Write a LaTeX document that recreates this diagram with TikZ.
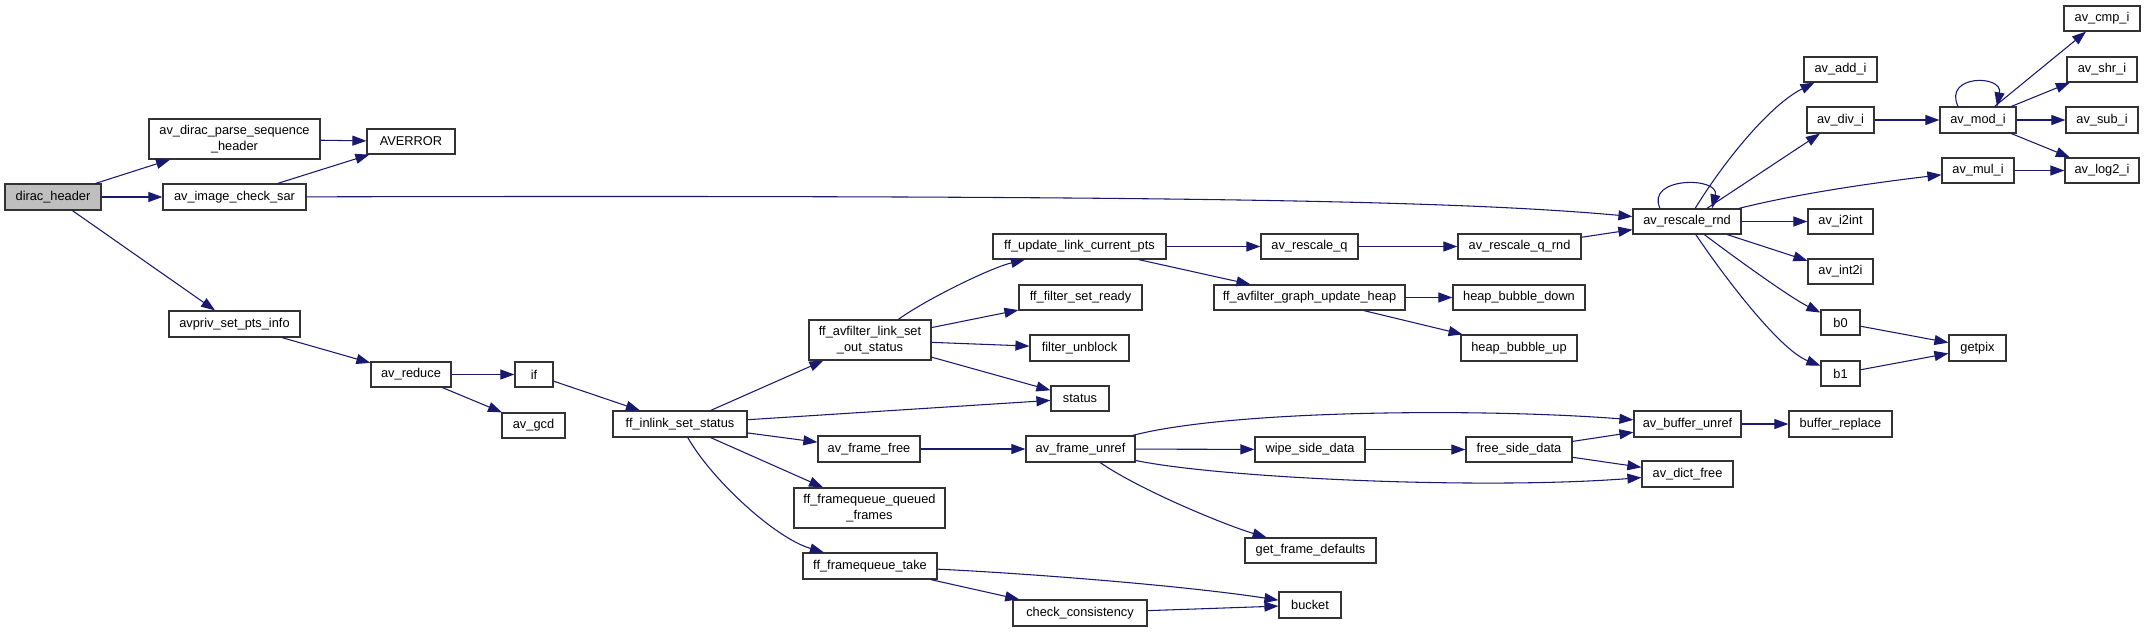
\documentclass[tikz,border=0pt]{standalone}
\usepackage{fontspec}
\setmainfont{Liberation Sans}
\usetikzlibrary{arrows.meta,calc}
\definecolor{edgeBlue}{HTML}{191970}
\definecolor{rootGray}{HTML}{BFBFBF}

\begin{document}
\begin{tikzpicture}[x=0.75pt, y=-0.75pt,
        fn/.style 2 args={draw=black!80, line width=0.9pt, fill=white, inner sep=0pt, align=center,
            minimum width=#1*0.75pt, minimum height=#2*0.75pt, font=\fontsize{9.6}{11.5}\selectfont},
        call/.style={draw=edgeBlue, line width=0.8pt, -{Triangle[length=10.5pt,width=7.5pt]}}]
        \useasboundingbox[fill=white] (0,0) rectangle (2145,632);

        \node[fn={96}{26}, fill=rootGray] (diracHeader) at (53,197) {dirac\_header};
        \node[fn={171}{40}] (parseSeq) at (234.5,139) {av\_dirac\_parse\_sequence\\\_header};
        \node[fn={88}{25}] (averror) at (411,141.5) {AVERROR};
        \node[fn={143}{26}] (checkSar) at (234.5,197) {av\_image\_check\_sar};
        \node[fn={131}{26}] (ptsInfo) at (234.5,324) {avpriv\_set\_pts\_info};
        \node[fn={80}{25}] (reduce) at (411,374.5) {av\_reduce};
        \node[fn={38}{25}] (ifNode) at (534,374.5) {if};
        \node[fn={63}{25}] (gcd) at (533.5,425.5) {av\_gcd};
        \node[fn={134}{26}] (inlinkStatus) at (680,424) {ff\_inlink\_set\_status};
        \node[fn={122}{40}] (outStatus) at (870,340) {ff\_avfilter\_link\_set\\\_out\_status};
        \node[fn={173}{25}] (updatePts) at (1079.5,246.5) {ff\_update\_link\_current\_pts};
        \node[fn={123}{25}] (setReady) at (1080.5,297.5) {ff\_filter\_set\_ready};
        \node[fn={99}{26}] (unblock) at (1079.5,348) {filter\_unblock};
        \node[fn={58}{25}] (status) at (1080,398.5) {status};
        \node[fn={102}{26}] (frameFree) at (869,449) {av\_frame\_free};
        \node[fn={151}{40}] (queued) at (869.5,508) {ff\_framequeue\_queued\\\_frames};
        \node[fn={134}{26}] (queueTake) at (870,566) {ff\_framequeue\_take};
        \node[fn={134}{26}] (consistency) at (1080,613) {check\_consistency};
        \node[fn={62}{26}] (bucket) at (1310,605) {bucket};
        \node[fn={109}{26}] (frameUnref) at (1080.5,449) {av\_frame\_unref};
        \node[fn={131}{25}] (frameDefaults) at (1310.5,550.5) {get\_frame\_defaults};
        \node[fn={110}{25}] (wipeSide) at (1310,449.5) {wipe\_side\_data};
        \node[fn={106}{25}] (freeSide) at (1519,449.5) {free\_side\_data};
        \node[fn={107}{26}] (bufferUnref) at (1687.5,424) {av\_buffer\_unref};
        \node[fn={91}{26}] (dictFree) at (1687.5,474) {av\_dict\_free};
        \node[fn={103}{26}] (bufferReplace) at (1840.5,424) {buffer\_replace};
        \node[fn={191}{25}] (updateHeap) at (1309.5,297.5) {ff\_avfilter\_graph\_update\_heap};
        \node[fn={132}{25}] (bubbleDown) at (1519,297.5) {heap\_bubble\_down};
        \node[fn={116}{26}] (bubbleUp) at (1519,348) {heap\_bubble\_up};
        \node[fn={97}{25}] (rescaleQ) at (1309.5,246.5) {av\_rescale\_q};
        \node[fn={123}{25}] (rescaleQRnd) at (1519.5,246.5) {av\_rescale\_q\_rnd};
        \node[fn={108}{25}] (rescaleRnd) at (1687,221.5) {av\_rescale\_rnd};
        \node[fn={73}{25}] (addI) at (1840.5,69.5) {av\_add\_i};
        \node[fn={67}{26}] (divI) at (1840.5,120) {av\_div\_i};
        \node[fn={76}{26}] (modI) at (1978,120) {av\_mod\_i};
        \node[fn={76}{25}] (cmpI) at (2102,18.5) {av\_cmp\_i};
        \node[fn={70}{25}] (shrI) at (2102,69.5) {av\_shr\_i};
        \node[fn={72}{26}] (subI) at (2102,120) {av\_sub\_i};
        \node[fn={72}{25}] (mulI) at (1978,170.5) {av\_mul\_i};
        \node[fn={74}{25}] (log2I) at (2102,170.5) {av\_log2\_i};
        \node[fn={65}{25}] (i2int) at (1840.5,221.5) {av\_i2int};
        \node[fn={65}{25}] (int2i) at (1840.5,271.5) {av\_int2i};
        \node[fn={39}{25}] (bZero) at (1840.5,322.5) {b0};
        \node[fn={39}{25}] (bOne) at (1840.5,373.5) {b1};
        \node[fn={57}{26}] (getpix) at (1977.5,348) {getpix};

        \draw[call] (diracHeader) -- (parseSeq);
        \draw[call] (diracHeader) -- (checkSar);
        \draw[call] (diracHeader) -- (ptsInfo);
        \draw[call] (parseSeq) -- (averror);
        \draw[call] (checkSar) -- (averror);
        \draw[call] (checkSar) .. controls (1150,195) and (1450,200) .. (rescaleRnd);
        \draw[call] (ptsInfo) -- (reduce);
        \draw[call] (reduce) -- (ifNode);
        \draw[call] (reduce) -- (gcd);
        \draw[call] (ifNode) -- (inlinkStatus);
        \draw[call] (inlinkStatus) -- (outStatus);
        \draw[call] (inlinkStatus) -- (status);
        \draw[call] (inlinkStatus) -- (frameFree);
        \draw[call] (inlinkStatus) -- (queued);
        \draw[call] (inlinkStatus) .. controls (712,480) and (775,538) .. (queueTake);
        \draw[call] (outStatus) .. controls (925,300) and (990,268) .. (updatePts);
        \draw[call] (outStatus) -- (setReady);
        \draw[call] (outStatus) -- (unblock);
        \draw[call] (outStatus) -- (status);
        \draw[call] (updatePts) -- (rescaleQ);
        \draw[call] (updatePts) -- (updateHeap);
        \draw[call] (rescaleQ) -- (rescaleQRnd);
        \draw[call] (rescaleQRnd) -- (rescaleRnd);
        \draw[call] (updateHeap) -- (bubbleDown);
        \draw[call] (updateHeap) -- (bubbleUp);

        \draw[call] ($(rescaleRnd.north)+(-27,0)$) .. controls +(-15,-32) and +(8,-32) .. ($(rescaleRnd.north)+(25,0)$);
        \draw[call] (rescaleRnd) .. controls (1725,160) and (1770,105) .. (addI);
        \draw[call] (rescaleRnd) -- (divI);
        \draw[call] (rescaleRnd) .. controls (1800,193) and (1880,182) .. (mulI);
        \draw[call] (rescaleRnd) -- (i2int);
        \draw[call] (rescaleRnd) -- (int2i);
        \draw[call] (rescaleRnd) .. controls (1738,260) and (1791,298) .. (bZero);
        \draw[call] (rescaleRnd) .. controls (1725,278) and (1780,350) .. (bOne);
        \draw[call] (divI) -- (modI);
        \draw[call] ($(modI.north)+(-20,0)$) .. controls +(-15,-32) and +(6,-32) .. ($(modI.north)+(19,0)$);
        \draw[call] (modI) -- (cmpI);
        \draw[call] (modI) -- (shrI);
        \draw[call] (modI) -- (subI);
        \draw[call] (modI) -- (log2I);
        \draw[call] (mulI) -- (log2I);
        \draw[call] (bZero) -- (getpix);
        \draw[call] (bOne) -- (getpix);

        \draw[call] (frameFree) -- (frameUnref);
        \draw[call] (frameUnref) .. controls (1230,410) and (1480,408) .. (bufferUnref);
        \draw[call] (frameUnref) -- (wipeSide);
        \draw[call] (frameUnref) .. controls (1220,478) and (1480,490) .. (dictFree);
        \draw[call] (frameUnref) .. controls (1140,490) and (1225,525) .. (frameDefaults);
        \draw[call] (wipeSide) -- (freeSide);
        \draw[call] (freeSide) -- (bufferUnref);
        \draw[call] (freeSide) -- (dictFree);
        \draw[call] (bufferUnref) -- (bufferReplace);
        \draw[call] (queueTake) .. controls (1020,573) and (1180,585) .. (bucket);
        \draw[call] (queueTake) -- (consistency);
        \draw[call] (consistency) -- (bucket);
    \end{tikzpicture}
\end{document}
